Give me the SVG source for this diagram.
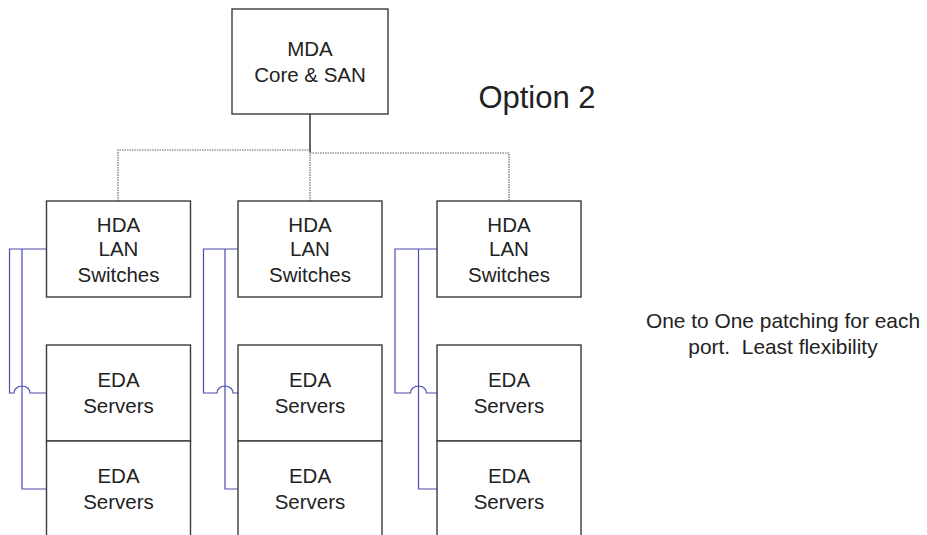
<svg xmlns="http://www.w3.org/2000/svg" width="927" height="535" viewBox="0 0 927 535">
<style>
.box{fill:#fff;stroke:#3a3a3a;stroke-width:1.4}
.t{font-family:"Liberation Sans",Arial,sans-serif;font-size:20.5px;fill:#222;text-anchor:middle}
.dot{fill:none;stroke:#666;stroke-width:1.2;stroke-dasharray:1.5 1}
.solid{fill:none;stroke:#333;stroke-width:1.5}
.blue{fill:none;stroke:#4a4cae;stroke-width:1.2}
</style>
<rect width="927" height="535" fill="#fff"/>
<g id="connectors">
<path class="solid" d="M310 114V152"/>
<path class="dot" d="M118 201V150H310M310 153H509V201M310 152V201"/>
<path class="blue" d="M46 249H9.5V393H14A8 7 0 0 1 30 393H46M22 249V489H46"/>
<path class="blue" d="M248 249H203.5V393H217A8 7 0 0 1 233 393H238M225 249V489H248"/>
<path class="blue" d="M437 249H395V393H410.5A8 7 0 0 1 426.5 393H437M418.5 249V489H438"/>
</g>
<g id="mda">
<rect class="box" x="232" y="9" width="156" height="105"/>
<text class="t" x="310" y="55.5">MDA</text>
<text class="t" x="310" y="81.5">Core &amp; SAN</text>
</g>
<g id="hda1">
<rect class="box" x="46.5" y="201" width="144" height="96"/>
<text class="t" x="118.5" y="232">HDA</text>
<text class="t" x="118.5" y="256">LAN</text>
<text class="t" x="118.5" y="281.5">Switches</text>
</g>
<g id="hda2">
<rect class="box" x="238" y="201" width="144" height="96"/>
<text class="t" x="310" y="232">HDA</text>
<text class="t" x="310" y="256">LAN</text>
<text class="t" x="310" y="281.5">Switches</text>
</g>
<g id="hda3">
<rect class="box" x="437" y="201" width="144" height="96"/>
<text class="t" x="509" y="232">HDA</text>
<text class="t" x="509" y="256">LAN</text>
<text class="t" x="509" y="281.5">Switches</text>
</g>
<g id="eda1a">
<rect class="box" x="46.5" y="345" width="144" height="96"/>
<text class="t" x="118.5" y="387">EDA</text>
<text class="t" x="118.5" y="412.5">Servers</text>
</g>
<g id="eda1b">
<rect class="box" x="46.5" y="441" width="144" height="100"/>
<text class="t" x="118.5" y="483">EDA</text>
<text class="t" x="118.5" y="508.5">Servers</text>
</g>
<g id="eda2a">
<rect class="box" x="238" y="345" width="144" height="96"/>
<text class="t" x="310" y="387">EDA</text>
<text class="t" x="310" y="412.5">Servers</text>
</g>
<g id="eda2b">
<rect class="box" x="238" y="441" width="144" height="100"/>
<text class="t" x="310" y="483">EDA</text>
<text class="t" x="310" y="508.5">Servers</text>
</g>
<g id="eda3a">
<rect class="box" x="437" y="345" width="144" height="96"/>
<text class="t" x="509" y="387">EDA</text>
<text class="t" x="509" y="412.5">Servers</text>
</g>
<g id="eda3b">
<rect class="box" x="437" y="441" width="144" height="100"/>
<text class="t" x="509" y="483">EDA</text>
<text class="t" x="509" y="508.5">Servers</text>
</g>
<g id="labels">
<text class="t" x="537" y="108" style="font-size:31px">Option 2</text>
<text class="t" x="783" y="328" style="font-size:20.9px">One to One patching for each</text>
<text class="t" x="783" y="354" style="font-size:20.9px" xml:space="preserve">port.  Least flexibility</text>
</g>
</svg>
